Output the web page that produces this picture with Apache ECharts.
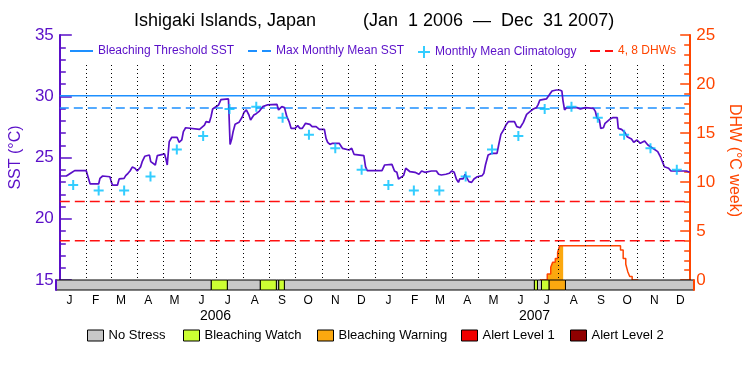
<!DOCTYPE html>
<html>
<head>
<meta charset="utf-8">
<script src="https://cdn.jsdelivr.net/npm/echarts@6/dist/echarts.min.js"></script>
<style>
html,body{margin:0;padding:0;background:#fff;}
#chart{width:750px;height:375px;}
</style>
</head>
<body>
<div id="chart"></div>
<script>
// ---- DATA (day 0 = 1 Jan 2006) ----
const monthLetters = ['J','F','M','A','M','J','J','A','S','O','N','D'];
const years = ['2006', '2007'];
const climatology = [22.75, 22.3, 22.3, 23.45, 25.65, 26.75, 28.95, 29.15, 28.25, 26.85, 25.75, 24.0];
const maxMonthlyMean = 29.05;
const bleachingThreshold = 30.05;
const dhwLevels = [4, 8];

const sstDay = [0,7.6,9.5,13.4,17.2,30.5,35.1,45,46.5,49.6,58,59.5,61,66.8,68.7,74.4,76.3,79,81.3,83.9,87,89.7,91.6,93.5,95.4,98.4,103.8,105.3,110.6,112.9,114.5,121.3,122.9,124.4,126.7,129.7,135.8,138.1,141.2,143.1,145.7,148,161.8,167.5,169.4,173.2,175.1,177,180.8,183.9,186.6,188.5,195.3,196.1,197.2,199.2,200.7,203,207.5,211.4,213.3,216,219,220.9,224.7,227.4,231.2,235,240,241.9,251.4,253.3,257.1,260.2,262.9,265.5,267.8,272.4,275.5,278.1,280.8,284.6,289.6,292.2,296.8,300.6,306.4,308.3,310.2,312.8,315.9,323.5,327.3,329.2,335,338,340.7,352.1,354,356,373.1,376.2,384.6,387.6,390.3,392.2,394.1,398,400.6,405.6,411.3,415.9,419,422.7,430.4,436.1,438.7,441.8,447.1,451,454,456.7,459.3,461.6,463.2,467,469.3,472,473.8,476.9,479.6,483.4,489.1,491,492.9,496,500.5,506.3,508.2,510.8,513.9,516.6,519.6,526.5,529.2,533,536.8,540.6,544.4,548.2,552,554,555.9,563.5,567.3,570,575,578.8,581.4,582.6,584.5,586.8,599,602.8,608.5,618,620.3,621.9,624.9,626.4,629.5,631.4,637.1,640.2,645.5,646.7,650.5,654.3,657,662,664.6,668.4,672.2,677.2,681,686.7,692.4,695.1,698.2,700.1,705,707.7,725.6,729.5];
const sstValue = [23.49,23.49,23.63,23.76,23.93,23.93,22.84,22.84,23.3,23.49,23.43,23.03,22.75,22.75,23.25,23.3,23.52,23.71,23.9,24.22,24.12,23.9,23.9,24.22,24.66,25.1,25.2,24.66,24.39,25.15,25.26,25.29,24.88,24.39,26.29,26.65,26.65,26.24,26.43,27.11,27.43,27.3,27.3,27.65,27.93,27.87,28.33,28.96,29.15,29.29,29.72,29.78,29.78,28.2,26.07,26.56,27.11,27.71,27.87,28.33,28.69,28.88,28.47,28.06,28.47,28.58,28.79,29.15,29.29,29.34,29.34,28.88,29.15,29.07,28.33,27.93,27.38,27.38,27.6,27.38,27.38,27.79,27.71,27.52,27.52,27.3,27.3,26.56,26.24,26.07,26.16,26.16,25.75,25.61,25.61,25.75,25.26,25.15,24.25,23.93,23.93,24.39,24.44,23.9,23.79,23.25,23.11,23.52,24.12,23.84,23.79,23.63,23.9,23.79,23.9,23.9,23.63,23.57,23.63,23.71,23.9,23.79,23.22,22.97,23.25,23.25,23.63,23.25,23.03,22.97,23.25,23.43,23.52,23.71,24.39,25.2,25.34,25.34,26.02,26.89,27.24,27.65,27.93,27.93,27.52,27.43,27.87,28.52,28.74,28.96,29.07,29.34,29.69,29.78,30.16,30.43,30.51,30.51,30.43,29.69,28.88,29.07,29.07,28.96,29.07,29.01,28.74,28.25,28.06,27.38,27.43,27.79,28.14,28.25,28.25,27.38,27.3,27.05,26.7,26.51,26.24,26.43,26.16,26.35,26.02,25.75,25.48,25.12,24.6,24.25,24.12,23.9,23.9,23.79];

const dhwDay = [556, 564.5, 568.5, 570.7, 573.8, 576.5, 578.8, 649.3, 652.4, 655.4, 657.7, 660, 662.8, 670];
const dhwValue = [0, 0.6, 1.3, 1.8, 2.2, 2.8, 3.5, 3.05, 2.2, 1.6, 0.85, 0.35, 0, 0];

const stressNames = ['No Stress', 'Bleaching Watch', 'Bleaching Warning', 'Alert Level 1', 'Alert Level 2'];
const stressColors = ['#c8c8c8', '#ccff33', '#fba80f', '#f00000', '#900000'];
const stressStart = [0, 177.7, 196.0, 233.8, 252.1, 254.9, 261.3, 547.4, 550.9, 555.5, 564.3, 582.9];
const stressEnd   = [177.7, 196.0, 233.8, 252.1, 254.9, 261.3, 547.4, 550.9, 555.5, 564.3, 582.9, 730];
const stressLevel = [0, 1, 0, 1, 0, 1, 0, 1, 0, 1, 2, 0];

// ---- derived calendar helpers ----
const DAY0 = Date.UTC(2006, 0, 1);
const monthStart = [], monthMid = [];
for (let y = 2006; y <= 2007; y++) {
  for (let m = 0; m < 12; m++) {
    const s = (Date.UTC(y, m, 1) - DAY0) / 86400000;
    const e = (Date.UTC(y, m + 1, 1) - DAY0) / 86400000;
    monthStart.push(s);
    monthMid.push((s + e) / 2);
  }
}
const totalDays = (Date.UTC(2008, 0, 1) - DAY0) / 86400000;
const dayCats = Array.from({length: totalDays}, (_, i) => String(i));
const monthLabelAt = {};
monthMid.forEach((d, i) => { monthLabelAt[Math.floor(d)] = monthLetters[i % 12]; });
const yearLabelAt = {};
years.forEach((y, i) => { yearLabelAt[Math.floor(totalDays * (2 * i + 1) / 4)] = y; });

const PURPLE = '#5a0fc8', ORANGE = '#ff4500', BLUE = '#1e90ff', CYAN = '#00c0ff', RED = '#ff1010';
const FONT = '"Liberation Sans", Arial, sans-serif';

const sstData = sstDay.map((d, i) => [d, sstValue[i]]);
const dhwData = dhwDay.map((d, i) => [d, dhwValue[i]]);
const warnIdx = stressLevel.indexOf(2);
const wS = stressStart[warnIdx], wE = stressEnd[warnIdx];
const dhwFill = dhwData.filter(p => p[0] >= wS && p[0] <= wE);
dhwFill.push([wE, dhwFill[dhwFill.length - 1][1]]);
const climData = monthMid.map((d, i) => [d, climatology[i % 12]]);
const xMin = 0, xMax = totalDays;

const monthLines = monthStart.filter(d => d > 0).map(d => [{coord: [d, 32.55]}, {coord: [d, 15]}]);

function stressSeries(level) {
  const data = [];
  stressLevel.forEach((l, i) => { if (l === level) data.push([stressStart[i], stressEnd[i], 0]); });
  return {
    type: 'custom', name: stressNames[level], xAxisIndex: 1, yAxisIndex: 2,
    itemStyle: {color: stressColors[level], borderColor: '#000', borderWidth: 1},
    encode: {x: [0, 1], y: 2},
    z: 5,
    renderItem: function (params, api) {
      const a = api.coord([api.value(0), 0]);
      const b = api.coord([api.value(1), 1]);
      return {type: 'rect', shape: {x: a[0], y: b[1], width: b[0] - a[0], height: a[1] - b[1]},
        style: {fill: stressColors[level], stroke: '#000', lineWidth: 1}};
    },
    data: data
  };
}

const hiddenSymbol = {color: 'rgba(0,0,0,0)', borderColor: 'rgba(0,0,0,0)', borderWidth: 0};
const topLegend = (name, left, color, w, itemStyle) => ({
  data: [name], left: left, top: 45, padding: 0, itemWidth: w || 23, itemHeight: 14,
  selectedMode: false, textStyle: {color: color, fontSize: 12, fontFamily: FONT},
  itemStyle: itemStyle || hiddenSymbol
});
const botLegend = (name, left) => ({
  data: [name], left: left, top: 329, padding: 0, itemWidth: 16, itemHeight: 11, icon: 'rect',
  selectedMode: false, itemStyle: {borderColor: '#000', borderWidth: 1},
  textStyle: {color: '#000', fontSize: 13, fontFamily: FONT}
});

const labelAxis = (labelAt, offset, margin, size) => ({
  type: 'category', gridIndex: 1, data: dayCats, boundaryGap: true, position: 'bottom', offset: offset,
  axisLine: {show: false}, axisTick: {show: false}, splitLine: {show: false},
  axisLabel: {show: true, interval: (i) => labelAt[i] !== undefined, margin: margin,
    color: '#000', fontSize: size, fontFamily: FONT,
    formatter: (v) => labelAt[v] || ''}
});

const option = {
  animation: false,
  backgroundColor: '#fff',
  title: [
    {text: 'Ishigaki Islands, Japan', left: 134, top: 12, padding: 0, textStyle: {fontSize: 18, fontWeight: 'normal', color: '#000', fontFamily: FONT}},
    {text: '(Jan  1 2006  \u2014  Dec  31 2007)', left: 363, top: 12, padding: 0, textStyle: {fontSize: 18, fontWeight: 'normal', color: '#000', fontFamily: FONT}}
  ],
  legend: [
    topLegend('Bleaching Threshold SST', 69, PURPLE),
    topLegend('Max Monthly Mean SST', 247, PURPLE),
    topLegend('Monthly Mean Climatology', 417, PURPLE, 12, {}),
    topLegend('4, 8 DHWs', 589, ORANGE),
    botLegend(stressNames[0], 87),
    botLegend(stressNames[1], 183),
    botLegend(stressNames[2], 317),
    botLegend(stressNames[3], 461),
    botLegend(stressNames[4], 570)
  ],
  grid: [
    {left: 56, right: 56, top: 35, height: 245},
    {left: 56, right: 56, top: 280, height: 10}
  ],
  xAxis: [
    {type: 'value', gridIndex: 0, min: xMin, max: xMax, show: false},
    {type: 'value', gridIndex: 1, min: xMin, max: xMax, show: false},
    labelAxis(monthLabelAt, 0, 5, 12),
    labelAxis(yearLabelAt, 15, 4, 14)
  ],
  yAxis: [
    {type: 'value', gridIndex: 0, position: 'left', min: 15, max: 35, interval: 5,
      name: 'SST (\u00b0C)', nameLocation: 'middle', nameGap: 28,
      nameTextStyle: {color: PURPLE, fontSize: 16, fontFamily: FONT},
      axisLine: {show: true, lineStyle: {color: PURPLE, width: 2}},
      axisTick: {show: true, inside: true, length: 12, lineStyle: {color: PURPLE, width: 1.5}},
      minorTick: {show: true, splitNumber: 5, length: 6, lineStyle: {color: PURPLE, width: 1.5}},
      splitLine: {show: false},
      axisLabel: {color: PURPLE, fontSize: 17, margin: 6, fontFamily: FONT}},
    {type: 'value', gridIndex: 0, position: 'right', min: 0, max: 25, interval: 5,
      name: 'DHW (\u00b0C week)', nameLocation: 'middle', nameGap: 24, nameRotate: -90,
      nameTextStyle: {color: ORANGE, fontSize: 16, fontFamily: FONT, padding: [0, 0, 0, 6]},
      axisLine: {show: true, lineStyle: {color: ORANGE, width: 2}},
      axisTick: {show: true, inside: true, length: 10, lineStyle: {color: ORANGE, width: 1.5}},
      minorTick: {show: true, splitNumber: 5, length: 6, lineStyle: {color: ORANGE, width: 1.5}},
      splitLine: {show: false},
      axisLabel: {color: ORANGE, fontSize: 17, margin: 6, fontFamily: FONT}},
    {type: 'value', gridIndex: 1, position: 'left', min: 0, max: 1, z: 10,
      axisLine: {show: true, lineStyle: {color: PURPLE, width: 2}},
      axisTick: {show: false}, axisLabel: {show: false}, splitLine: {show: false}},
    {type: 'value', gridIndex: 1, position: 'right', min: 0, max: 1, z: 10,
      axisLine: {show: true, lineStyle: {color: ORANGE, width: 2}},
      axisTick: {show: false}, axisLabel: {show: false}, splitLine: {show: false}}
  ],
  series: [
    {type: 'line', name: 'Bleaching Threshold SST', xAxisIndex: 0, yAxisIndex: 0, z: 1,
      symbol: 'none', silent: true, lineStyle: {color: BLUE, width: 1.5}, itemStyle: {color: BLUE},
      data: [[xMin, bleachingThreshold], [xMax, bleachingThreshold]],
      markLine: {silent: true, symbol: ['none', 'none'], label: {show: false},
        lineStyle: {color: '#000', type: [1, 3], width: 1}, emphasis: {disabled: true},
        data: monthLines}},
    {type: 'line', name: 'Max Monthly Mean SST', xAxisIndex: 0, yAxisIndex: 0, z: 1,
      symbol: 'none', silent: true, lineStyle: {color: BLUE, width: 1.5, type: [9, 5]}, itemStyle: {color: BLUE},
      data: [[xMin, maxMonthlyMean], [xMax, maxMonthlyMean]]},
    {type: 'line', name: '4, 8 DHWs', xAxisIndex: 0, yAxisIndex: 1, z: 1,
      symbol: 'none', silent: true, lineStyle: {color: RED, width: 1.5, type: [10, 5]}, itemStyle: {color: RED},
      data: [[xMin, dhwLevels[0]], [xMax, dhwLevels[0]]]},
    {type: 'line', name: '4, 8 DHWs', xAxisIndex: 0, yAxisIndex: 1, z: 1,
      symbol: 'none', silent: true, lineStyle: {color: RED, width: 1.5, type: [10, 5]}, itemStyle: {color: RED},
      data: [[xMin, dhwLevels[1]], [xMax, dhwLevels[1]]]},
    {type: 'line', name: 'DHW fill', xAxisIndex: 0, yAxisIndex: 1, z: 2, step: 'end',
      symbol: 'none', silent: true, lineStyle: {width: 0}, areaStyle: {color: stressColors[2], opacity: 1},
      data: dhwFill},
    {type: 'line', name: 'DHW', xAxisIndex: 0, yAxisIndex: 1, z: 3, step: 'end',
      symbol: 'none', silent: true, lineStyle: {color: ORANGE, width: 1.5},
      data: dhwData},
    {type: 'line', name: 'SST', xAxisIndex: 0, yAxisIndex: 0, z: 3,
      symbol: 'none', silent: true, lineStyle: {color: PURPLE, width: 1.7},
      data: sstData},
    {type: 'scatter', name: 'Monthly Mean Climatology', xAxisIndex: 0, yAxisIndex: 0, z: 4,
      symbol: 'path://M0,5L10,5M5,0L5,10', symbolSize: 10, silent: true,
      itemStyle: {color: CYAN, borderColor: CYAN, borderWidth: 2},
      data: climData},
    stressSeries(0), stressSeries(1), stressSeries(2), stressSeries(3), stressSeries(4)
  ]
};

const chart = echarts.init(document.getElementById('chart'), null, {renderer: 'canvas'});
chart.setOption(option);
</script>
</body>
</html>
